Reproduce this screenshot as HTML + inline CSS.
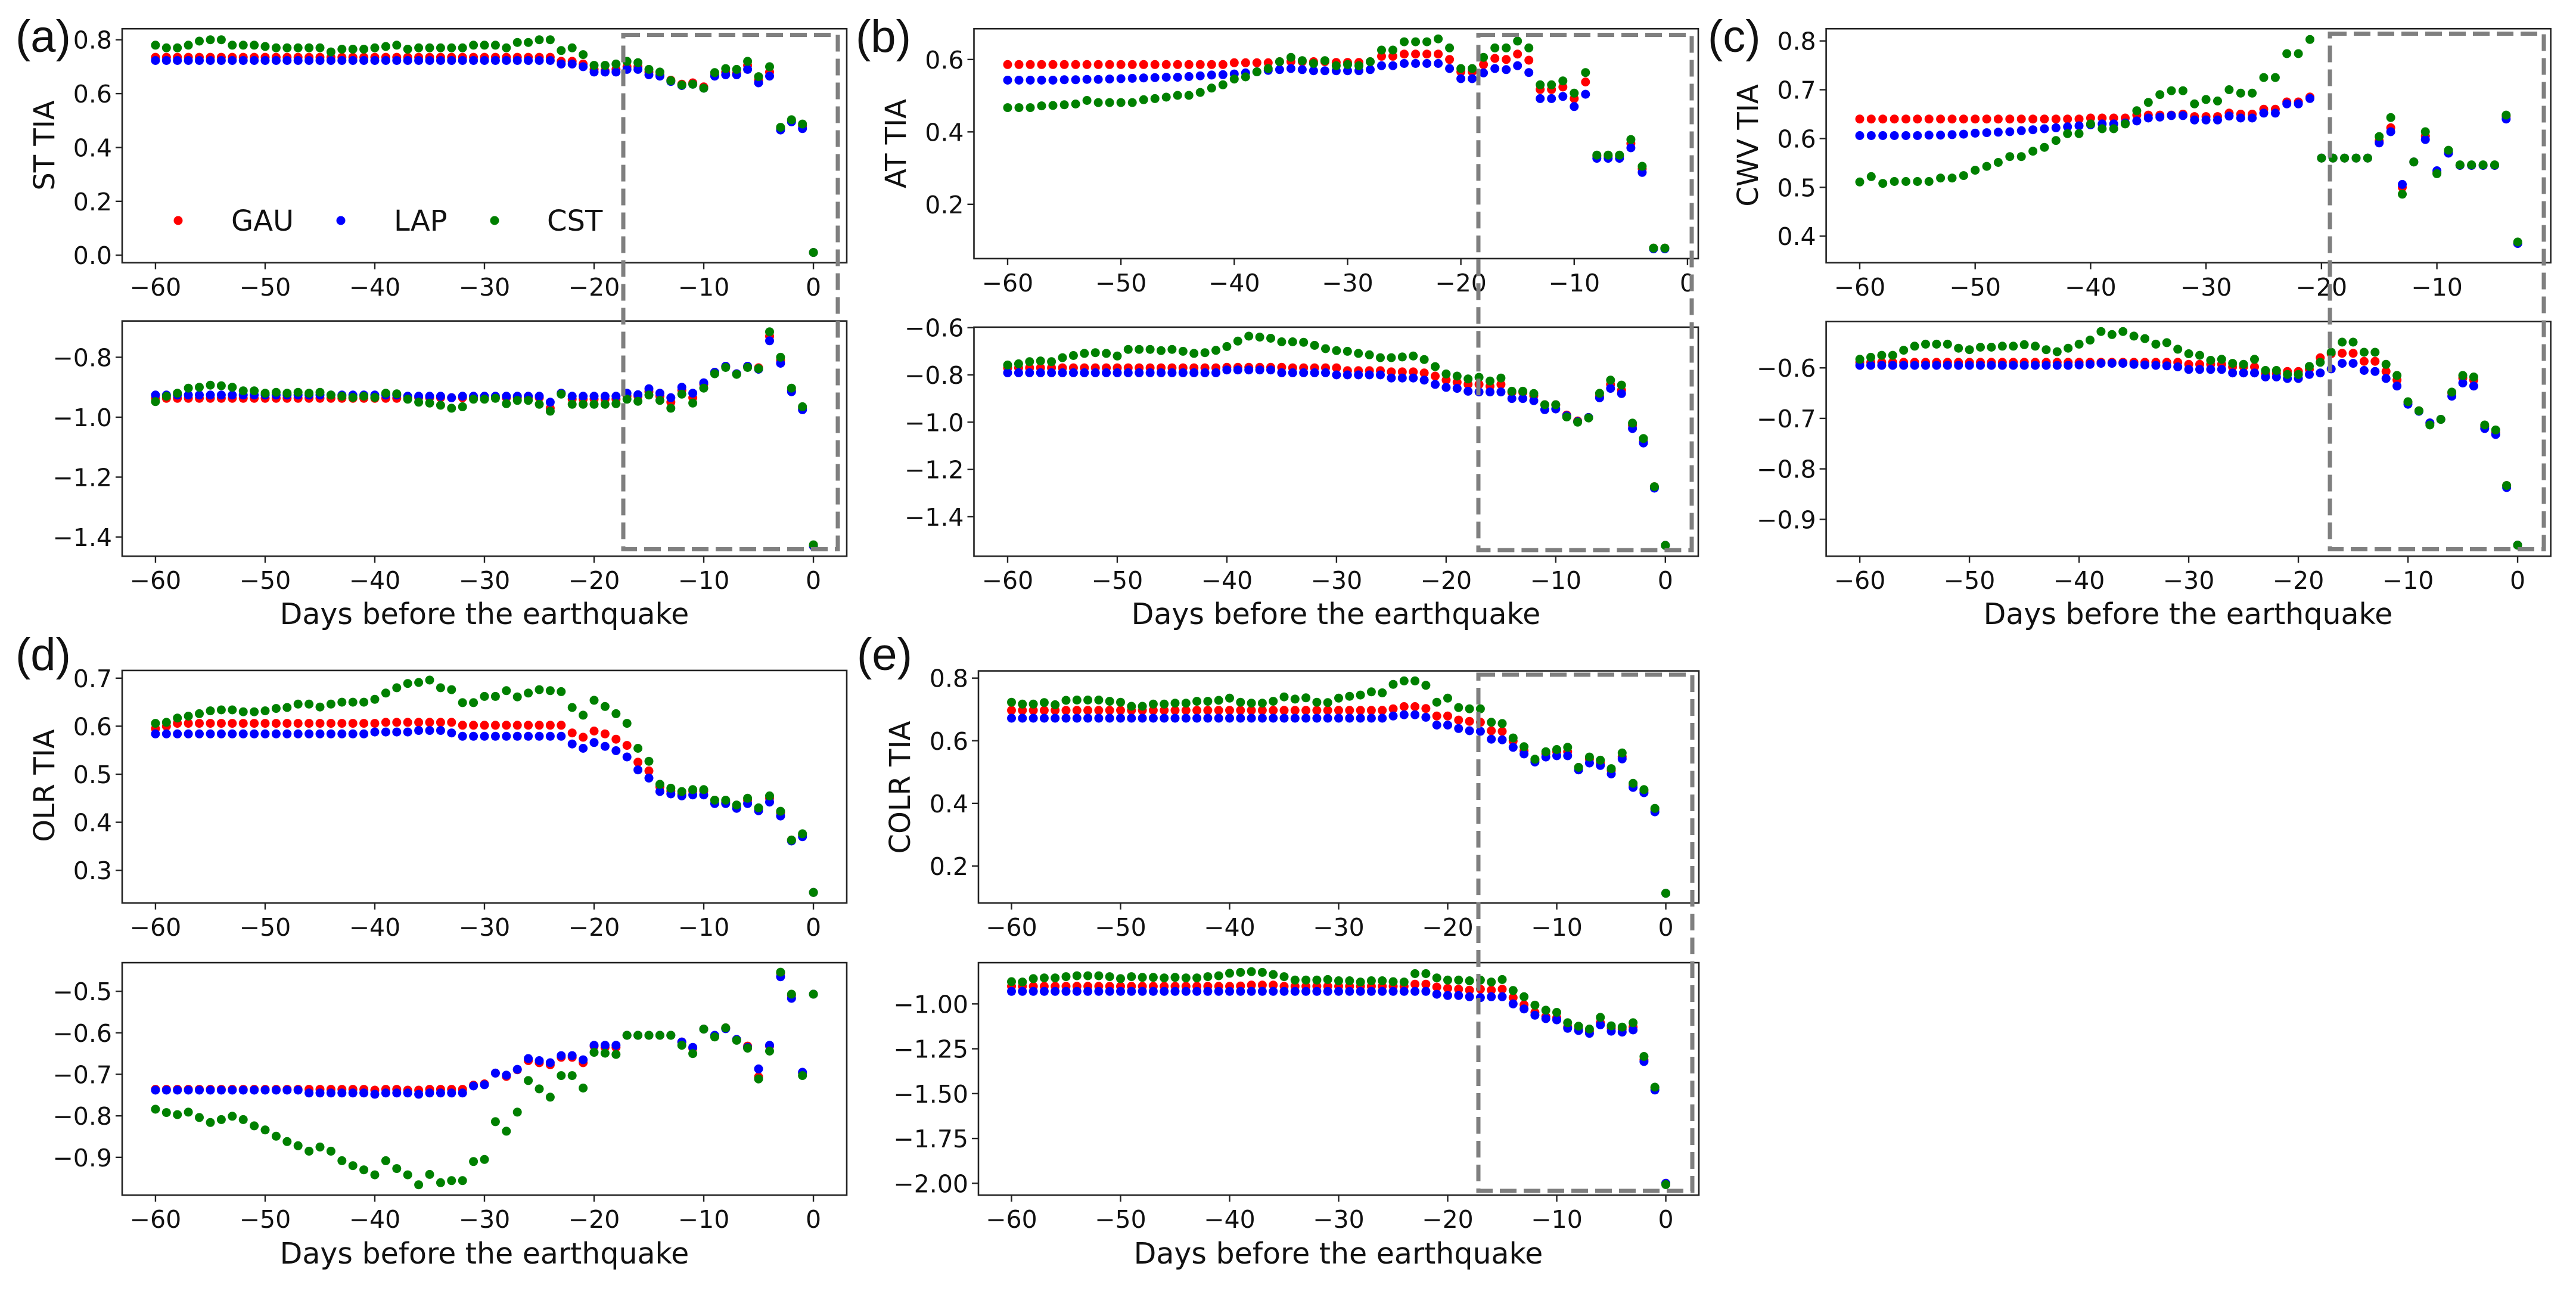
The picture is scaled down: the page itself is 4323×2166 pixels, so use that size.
<!DOCTYPE html>
<html><head><meta charset="utf-8"><title>TIA panels</title>
<style>html,body{margin:0;padding:0;background:#fff}svg{display:block}</style></head>
<body>
<svg id="fig" xmlns="http://www.w3.org/2000/svg" width="4323" height="2166" viewBox="0 0 4323 2166">
<rect x="0" y="0" width="4323" height="2166" fill="#fff"/>
</svg>
<script>
const days = [-60,-59,-58,-57,-56,-55,-54,-53,-52,-51,-50,-49,-48,-47,-46,-45,-44,-43,-42,-41,-40,-39,-38,-37,-36,-35,-34,-33,-32,-31,-30,-29,-28,-27,-26,-25,-24,-23,-22,-21,-20,-19,-18,-17,-16,-15,-14,-13,-12,-11,-10,-9,-8,-7,-6,-5,-4,-3,-2,-1,0];
const seriesNames = ["GAU","LAP","CST"];
const xTickVals = [-60,-50,-40,-30,-20,-10,0];

const aTopGAU = [.735,.735,.735,.735,.735,.735,.735,.735,.735,.735, .735,.735,.735,.735,.735,.735,.735,.735,.735,.735, .735,.735,.735,.735,.735,.735,.735,.735,.735,.735, .735,.735,.735,.735,.735,.735,.735,.72,.72,.71, .69,.685,.69,.70,.70,.68,.67,.65,.635,.64, .625,.67,.68,.675,.705,.65,.68,.47,.50,.48, .01];
const aTopLAP = [.723,.723,.723,.723,.723,.723,.723,.723,.723,.723, .723,.723,.723,.723,.723,.723,.723,.723,.723,.723, .723,.723,.723,.723,.723,.723,.723,.723,.723,.723, .723,.723,.723,.723,.723,.723,.723,.71,.71,.70, .68,.68,.68,.69,.69,.67,.665,.645,.63,.635, .62,.665,.67,.67,.69,.64,.665,.465,.495,.47, .01];
const aTopCST = [.78,.77,.77,.78,.795,.80,.80,.78,.78,.78, .775,.77,.77,.77,.77,.77,.755,.765,.765,.765, .77,.775,.78,.765,.77,.77,.77,.77,.77,.78, .78,.78,.77,.79,.79,.80,.80,.76,.77,.745, .705,.705,.71,.72,.715,.69,.68,.648,.632,.635, .62,.678,.693,.69,.72,.663,.70,.475,.503,.487, .01];
const aBotGAU = [-.937,-.937,-.937,-.937,-.937,-.937,-.937,-.937,-.937,-.937, -.937,-.937,-.937,-.937,-.937,-.937,-.937,-.937,-.937,-.937, -.937,-.937,-.937,-.935,-.935,-.935,-.935,-.935,-.935,-.935, -.935,-.935,-.935,-.935,-.935,-.935,-.97,-.92,-.94,-.94, -.94,-.94,-.94,-.93,-.93,-.915,-.93,-.95,-.91,-.935, -.89,-.85,-.83,-.855,-.83,-.835,-.73,-.81,-.91,-.97, -1.43];
const aBotLAP = [-.926,-.926,-.926,-.926,-.926,-.926,-.926,-.926,-.926,-.926, -.926,-.926,-.926,-.926,-.926,-.926,-.926,-.926,-.926,-.926, -.926,-.926,-.926,-.93,-.93,-.93,-.93,-.935,-.93,-.93, -.93,-.93,-.93,-.93,-.93,-.93,-.95,-.92,-.93,-.93, -.93,-.93,-.93,-.92,-.925,-.905,-.92,-.935,-.90,-.92, -.885,-.85,-.83,-.855,-.83,-.84,-.745,-.82,-.915,-.975, -1.43];
const aBotCST = [-.948,-.93,-.92,-.903,-.90,-.893,-.895,-.90,-.912,-.912, -.92,-.917,-.92,-.917,-.92,-.917,-.926,-.93,-.934,-.93, -.934,-.92,-.922,-.94,-.95,-.953,-.96,-.97,-.965,-.94, -.94,-.937,-.955,-.944,-.944,-.957,-.98,-.923,-.957,-.957, -.957,-.957,-.955,-.94,-.947,-.926,-.944,-.97,-.923,-.953, -.903,-.855,-.834,-.857,-.834,-.838,-.715,-.80,-.903,-.965, -1.426];

const bTopGAU = [.586,.586,.586,.586,.586,.586,.586,.586,.586,.586, .586,.586,.586,.586,.586,.586,.586,.586,.586,.586, .591,.591,.591,.591,.594,.594,.594,.594,.594,.592, .592,.592,.594,.609,.609,.615,.615,.615,.615,.60, .566,.566,.586,.603,.60,.615,.598,.517,.517,.524, .492,.538,.333,.333,.333,.368,.298,.079,.079,null, null];
const bTopLAP = [.543,.543,.543,.543,.543,.544,.544,.545,.545,.546, .547,.548,.549,.55,.551,.551,.553,.555,.557,.558, .56,.563,.566,.57,.572,.575,.572,.569,.569,.569, .569,.569,.572,.583,.583,.589,.589,.589,.589,.575, .547,.547,.563,.575,.572,.583,.564,.492,.492,.498, .47,.504,.327,.327,.327,.356,.288,.077,.077,null, null];
const bTopCST = [.467,.467,.467,.472,.473,.475,.477,.487,.481,.481, .481,.481,.489,.492,.496,.501,.501,.509,.521,.53, .546,.552,.566,.575,.594,.606,.597,.589,.597,.583, .586,.583,.594,.626,.626,.649,.649,.649,.657,.632, .575,.575,.606,.632,.632,.651,.632,.53,.53,.541, .507,.564,.336,.336,.336,.379,.305,.079,.079,null, null];
const bBotGAU = [-.77,-.77,-.77,-.77,-.77,-.77,-.77,-.77,-.77,-.77, -.77,-.77,-.77,-.77,-.77,-.77,-.77,-.77,-.77,-.77, -.768,-.768,-.768,-.768,-.768,-.768,-.77,-.77,-.77,-.77, -.77,-.782,-.782,-.782,-.782,-.787,-.787,-.787,-.792,-.805, -.822,-.831,-.84,-.84,-.848,-.84,-.874,-.874,-.888,-.926, -.926,-.97,-.995,-.98,-.89,-.84,-.865,-1.013,-1.082,-1.273, -1.521];
const bBotLAP = [-.791,-.791,-.791,-.791,-.791,-.791,-.791,-.791,-.791,-.791, -.791,-.791,-.791,-.791,-.791,-.791,-.791,-.791,-.791,-.791, -.779,-.779,-.779,-.779,-.779,-.791,-.791,-.791,-.791,-.791, -.80,-.80,-.80,-.80,-.80,-.813,-.813,-.813,-.822,-.84, -.853,-.857,-.869,-.872,-.872,-.872,-.90,-.90,-.909,-.947, -.944,-.973,-.998,-.98,-.897,-.857,-.879,-1.027,-1.088,-1.279, -1.521];
const bBotCST = [-.758,-.753,-.744,-.741,-.744,-.727,-.718,-.709,-.706,-.709, -.72,-.692,-.692,-.692,-.697,-.692,-.70,-.709,-.706,-.696, -.68,-.657,-.636,-.64,-.645,-.66,-.66,-.662,-.675,-.689, -.697,-.70,-.709,-.715,-.727,-.727,-.724,-.72,-.735,-.765, -.796,-.805,-.817,-.81,-.826,-.813,-.869,-.869,-.879,-.926, -.926,-.978,-1.0,-.982,-.878,-.822,-.843,-1.004,-1.069,-1.273, -1.521];

const cTopGAU = [.64,.64,.64,.64,.64,.64,.64,.64,.64,.64, .64,.64,.64,.64,.64,.64,.64,.64,.64,.64, .642,.642,.642,.642,.648,.648,.648,.648,.65,.645, .645,.645,.652,.65,.65,.66,.66,.675,.675,.685, .56,.56,.56,.56,.56,.595,.622,.50,.552,.605, .53,.572,.545,.545,.545,.545,.645,.385,null,null, null];
const cTopLAP = [.606,.606,.606,.606,.606,.606,.607,.607,.608,.609, .611,.612,.613,.614,.616,.618,.62,.622,.624,.626, .628,.63,.63,.632,.636,.642,.644,.647,.647,.638, .638,.638,.646,.642,.642,.652,.652,.671,.671,.682, .56,.56,.56,.56,.56,.591,.614,.506,.552,.598, .534,.57,.545,.545,.545,.545,.64,.385,null,null, null];
const cTopCST = [.511,.522,.508,.512,.512,.512,.512,.519,.519,.524, .535,.543,.551,.563,.563,.574,.582,.596,.61,.61, .63,.62,.62,.63,.657,.674,.69,.698,.698,.671, .68,.677,.70,.693,.693,.725,.725,.774,.774,.803, .56,.56,.56,.56,.56,.604,.643,.486,.552,.614, .528,.576,.546,.546,.546,.546,.648,.388,null,null, null];
const cBotGAU = [-.589,-.589,-.589,-.589,-.589,-.589,-.589,-.589,-.589,-.589, -.589,-.589,-.589,-.589,-.589,-.589,-.589,-.589,-.589,-.589, -.589,-.589,-.589,-.589,-.589,-.589,-.589,-.589,-.589,-.589, -.593,-.593,-.593,-.593,-.598,-.598,-.598,-.611,-.611,-.607, -.607,-.603,-.58,-.572,-.571,-.571,-.587,-.587,-.607,-.624, -.668,-.685,-.709,-.702,-.65,-.62,-.624,-.716,-.728,-.833, -.951];
const cBotLAP = [-.595,-.595,-.595,-.595,-.595,-.595,-.595,-.595,-.595,-.595, -.595,-.595,-.595,-.595,-.595,-.595,-.595,-.595,-.595,-.595, -.594,-.593,-.591,-.591,-.591,-.593,-.594,-.595,-.596,-.598, -.603,-.603,-.603,-.603,-.61,-.61,-.61,-.618,-.618,-.621, -.621,-.613,-.61,-.602,-.591,-.591,-.605,-.607,-.621,-.636, -.672,-.686,-.709,-.702,-.656,-.63,-.636,-.72,-.732,-.837, -.951];
const cBotCST = [-.583,-.579,-.575,-.575,-.565,-.557,-.553,-.553,-.553,-.561, -.564,-.559,-.559,-.557,-.557,-.554,-.557,-.564,-.568,-.561, -.553,-.545,-.528,-.534,-.528,-.537,-.542,-.553,-.55,-.563, -.572,-.575,-.585,-.583,-.591,-.593,-.583,-.605,-.605,-.613, -.613,-.597,-.589,-.569,-.549,-.549,-.569,-.569,-.593,-.615, -.667,-.685,-.713,-.702,-.648,-.615,-.618,-.713,-.723,-.833, -.951];

const dTopGAU = [.595,.60,.606,.606,.606,.606,.606,.606,.606,.606, .606,.606,.606,.606,.606,.606,.606,.606,.606,.606, .606,.608,.608,.608,.608,.608,.608,.608,.602,.602, .602,.602,.602,.602,.602,.602,.602,.602,.586,.577, .59,.584,.573,.56,.525,.507,.474,.465,.459,.465, .465,.446,.442,.433,.446,.429,.45,.42,.363,.374, .254];
const dTopLAP = [.584,.584,.584,.584,.584,.584,.584,.584,.584,.584, .584,.584,.584,.584,.584,.584,.584,.584,.584,.584, .588,.588,.588,.588,.591,.591,.591,.586,.579,.579, .579,.579,.579,.579,.579,.579,.579,.579,.563,.554, .566,.558,.549,.536,.509,.492,.464,.459,.455,.457, .457,.439,.439,.429,.439,.424,.442,.413,.361,.37, .254];
const dTopCST = [.606,.608,.617,.621,.626,.632,.634,.634,.63,.63, .632,.637,.639,.646,.646,.64,.646,.65,.65,.65, .656,.669,.68,.689,.691,.696,.68,.676,.649,.649, .662,.662,.674,.661,.669,.676,.674,.672,.639,.623, .654,.641,.626,.606,.554,.527,.479,.471,.464,.468, .468,.446,.446,.436,.45,.43,.455,.423,.363,.376, .254];
const dBotGAU = [-.736,-.736,-.736,-.736,-.736,-.736,-.736,-.736,-.736,-.736, -.736,-.736,-.736,-.736,-.736,-.736,-.736,-.736,-.736,-.736, -.738,-.736,-.736,-.738,-.738,-.736,-.736,-.736,-.736,-.726, -.723,-.697,-.705,-.689,-.667,-.672,-.677,-.659,-.659,-.672, -.632,-.635,-.635,-.606,-.606,-.606,-.606,-.606,-.622,-.637, -.591,-.608,-.588,-.616,-.632,-.706,-.632,-.456,-.51,-.697, -.507];
const dBotLAP = [-.738,-.738,-.738,-.738,-.738,-.738,-.738,-.738,-.738,-.738, -.738,-.738,-.738,-.738,-.745,-.745,-.745,-.745,-.745,-.745, -.748,-.745,-.745,-.745,-.748,-.745,-.745,-.745,-.745,-.728, -.725,-.697,-.702,-.688,-.662,-.667,-.672,-.655,-.655,-.665, -.63,-.63,-.63,-.606,-.606,-.606,-.606,-.606,-.622,-.635, -.591,-.606,-.59,-.616,-.635,-.687,-.63,-.465,-.517,-.695, -.507];
const dBotCST = [-.784,-.792,-.797,-.791,-.804,-.816,-.809,-.801,-.809,-.824, -.834,-.849,-.862,-.872,-.885,-.875,-.885,-.908,-.92,-.93, -.942,-.908,-.927,-.942,-.966,-.941,-.961,-.956,-.956,-.91, -.905,-.814,-.837,-.791,-.715,-.735,-.755,-.703,-.703,-.733, -.647,-.649,-.652,-.606,-.606,-.606,-.606,-.606,-.63,-.65, -.591,-.61,-.588,-.618,-.637,-.711,-.644,-.454,-.507,-.703, -.507];

const eTopGAU = [.697,.697,.697,.697,.697,.697,.697,.697,.697,.697, .697,.697,.697,.697,.697,.697,.697,.697,.697,.697, .697,.697,.697,.697,.697,.697,.697,.697,.697,.697, .697,.697,.697,.697,.697,.702,.709,.709,.703,.679, .679,.666,.662,.659,.632,.63,.599,.568,.538,.558, .565,.565,.515,.541,.529,.505,.549,.458,.44,.38, .113];
const eTopLAP = [.672,.672,.672,.672,.672,.672,.672,.672,.672,.672, .672,.672,.672,.672,.672,.672,.672,.672,.672,.672, .672,.672,.672,.672,.672,.672,.672,.672,.672,.672, .672,.672,.672,.672,.672,.679,.683,.683,.675,.65, .65,.639,.632,.63,.605,.603,.579,.558,.532,.548, .552,.552,.507,.529,.521,.494,.542,.451,.434,.373, .113];
const eTopCST = [.723,.717,.717,.722,.715,.729,.73,.73,.73,.726, .723,.71,.71,.717,.717,.72,.72,.726,.726,.729, .736,.723,.72,.72,.726,.74,.733,.737,.723,.722, .736,.742,.746,.756,.753,.78,.791,.791,.777,.723, .736,.706,.702,.702,.659,.655,.609,.581,.541,.565, .572,.579,.515,.548,.538,.511,.561,.464,.444,.384, .113];
const eBotGAU = [-.902,-.902,-.902,-.902,-.902,-.902,-.902,-.902,-.902,-.902, -.902,-.902,-.902,-.902,-.902,-.902,-.902,-.902,-.902,-.902, -.902,-.90,-.895,-.895,-.895,-.902,-.902,-.902,-.902,-.902, -.902,-.902,-.902,-.902,-.902,-.902,-.902,-.89,-.89,-.906, -.913,-.918,-.923,-.918,-.923,-.918,-.965,-1.005,-1.047,-1.07, -1.077,-1.129,-1.14,-1.152,-1.105,-1.136,-1.14,-1.129,-1.311,-1.468, -2.0];
const eBotLAP = [-.93,-.93,-.93,-.93,-.93,-.93,-.93,-.93,-.93,-.93, -.93,-.93,-.93,-.93,-.93,-.93,-.93,-.93,-.93,-.93, -.93,-.93,-.93,-.93,-.93,-.93,-.93,-.93,-.93,-.93, -.93,-.93,-.93,-.93,-.93,-.93,-.93,-.93,-.93,-.946, -.953,-.953,-.96,-.965,-.96,-.96,-1.0,-1.028,-1.063,-1.082, -1.089,-1.136,-1.148,-1.164,-1.117,-1.152,-1.157,-1.145,-1.321,-1.48, -2.0];
const eBotCST = [-.876,-.878,-.859,-.855,-.855,-.848,-.843,-.843,-.843,-.848, -.859,-.848,-.852,-.852,-.855,-.852,-.855,-.855,-.848,-.843, -.829,-.824,-.82,-.824,-.836,-.848,-.867,-.867,-.867,-.864, -.871,-.871,-.878,-.871,-.871,-.876,-.878,-.831,-.831,-.855, -.867,-.867,-.871,-.867,-.878,-.864,-.925,-.96,-1.007,-1.035, -1.047,-1.105,-1.124,-1.14,-1.075,-1.122,-1.129,-1.105,-1.293,-1.464, -2.007];

const aTopYTicks = [0,0.2,0.4,0.6,0.8];
const aBotYTicks = [-1.4,-1.2,-1.0,-0.8];
const bTopYTicks = [0.2,0.4,0.6];
const bBotYTicks = [-1.4,-1.2,-1.0,-0.8,-0.6];
const cTopYTicks = [0.4,0.5,0.6,0.7,0.8];
const cBotYTicks = [-0.9,-0.8,-0.7,-0.6];
const dTopYTicks = [0.3,0.4,0.5,0.6,0.7];
const dBotYTicks = [-0.9,-0.8,-0.7,-0.6,-0.5];
const eTopYTicks = [0.2,0.4,0.6,0.8];
const eBotYTicks = [-2.0,-1.75,-1.5,-1.25,-1.0];

const NS = "http://www.w3.org/2000/svg";
const svg = document.getElementById("fig");
const COLORS = ["#ff0000","#0000ff","#008000"];
const FONT = "'DejaVu Sans', 'Liberation Sans', sans-serif";

function mk(tag, attrs, parent) {
  const el = document.createElementNS(NS, tag);
  for (const k in attrs) el.setAttribute(k, attrs[k]);
  (parent || svg).appendChild(el);
  return el;
}
function fmt(v, d) { const s = Math.abs(v).toFixed(d); return (v < -1e-9 ? "\u2212" : "") + s; }

function drawPanel(name, box, xlim, ylim, yticks, ydec, xticks, data) {
  const g = mk("g", {});
  
  
  const sx = v => box.x0 + (v - xlim[0]) / (xlim[1] - xlim[0]) * (box.x1 - box.x0);
  const sy = v => box.y1 - (v - ylim[0]) / (ylim[1] - ylim[0]) * (box.y1 - box.y0);
  // points
  data.forEach((arr, si) => {
    const sg = mk("g", {fill: COLORS[si]}, g);
    
    
    arr.forEach((v, i) => {
      if (v === null) return;
      const c = mk("circle", {cx: sx(days[i]).toFixed(1), cy: sy(v).toFixed(1), r: 7.5}, sg);
      
      
    });
  });
  // frame
  const fr = mk("rect", {x: box.x0, y: box.y0, width: box.x1 - box.x0, height: box.y1 - box.y0, fill: "none", stroke: "#222", "stroke-width": 2.6}, g);
  
  
  // x ticks
  xticks.forEach(t => {
    const x = sx(t);
    if (x < box.x0 - 1 || x > box.x1 + 1) return;
    mk("line", {x1: x, y1: box.y1, x2: x, y2: box.y1 + 11, stroke: "#222", "stroke-width": 2.4}, g);
    const tx = mk("text", {x: x, y: box.y1 + 55, "text-anchor": "middle", "font-size": 41, "font-family": FONT, fill: "#111"}, g);
    tx.textContent = fmt(t, 0);
    
    
  });
  // y ticks
  yticks.forEach(t => {
    const y = sy(t);
    mk("line", {x1: box.x0 - 11, y1: y, x2: box.x0, y2: y, stroke: "#222", "stroke-width": 2.4}, g);
    const ty = mk("text", {x: box.x0 - 17, y: y + 15, "text-anchor": "end", "font-size": 41, "font-family": FONT, fill: "#111"}, g);
    ty.textContent = fmt(t, ydec);
    
    
  });
}

// Panel (a)
drawPanel("panel-a-top", {x0:205,x1:1421,y0:48.2,y1:440.8}, [-63.04,3.04], [-0.028,0.841], aTopYTicks, 1, xTickVals, [aTopGAU,aTopLAP,aTopCST]);
drawPanel("panel-a-bottom", {x0:205,x1:1421,y0:538.6,y1:933.2}, [-63.04,3.04], [-1.464,-0.679], aBotYTicks, 1, xTickVals, [aBotGAU,aBotLAP,aBotCST]);
// Panel (b)
drawPanel("panel-b-top", {x0:1634.5,x1:2850,y0:48.2,y1:433.9}, [-62.97,0.95], [0.050,0.685], bTopYTicks, 1, xTickVals, [bTopGAU,bTopLAP,bTopCST]);
drawPanel("panel-b-bottom", {x0:1634.5,x1:2850,y0:548.9,y1:933.2}, [-63.07,3.0], [-1.567,-0.598], bBotYTicks, 1, xTickVals, [bBotGAU,bBotLAP,bBotCST]);
// Panel (c)
drawPanel("panel-c-top", {x0:3064.6,x1:4280.6,y0:48.2,y1:440.8}, [-62.91,-0.14], [0.3455,0.825], cTopYTicks, 1, xTickVals, [cTopGAU,cTopLAP,cTopCST]);
drawPanel("panel-c-bottom", {x0:3064.6,x1:4280.6,y0:539.3,y1:933.2}, [-63.07,3.02], [-0.973,-0.508], cBotYTicks, 1, xTickVals, [cBotGAU,cBotLAP,cBotCST]);
// Panel (d)
drawPanel("panel-d-top", {x0:205,x1:1421,y0:1124.9,y1:1515}, [-63.04,3.04], [0.232,0.716], dTopYTicks, 1, xTickVals, [dTopGAU,dTopLAP,dTopCST]);
drawPanel("panel-d-bottom", {x0:205,x1:1421,y0:1615.1,y1:2005.2}, [-63.04,3.04], [-0.991,-0.431], dBotYTicks, 1, xTickVals, [dBotGAU,dBotLAP,dBotCST]);
// Panel (e)
drawPanel("panel-e-top", {x0:1642,x1:2851,y0:1125.6,y1:1515}, [-63.03,3.03], [0.082,0.823], eTopYTicks, 1, xTickVals, [eTopGAU,eTopLAP,eTopCST]);
drawPanel("panel-e-bottom", {x0:1642,x1:2851,y0:1615.1,y1:2005.2}, [-63.03,3.03], [-2.066,-0.770], eBotYTicks, 2, xTickVals, [eBotGAU,eBotLAP,eBotCST]);

// Dashed highlight boxes
[[1046,58.5,1406,921.5,"highlight-box-a"],[2481,58.5,2839,922.9,"highlight-box-b"],[3910,56.5,4269,921.5,"highlight-box-c"],[2481,1132,2840,1998,"highlight-box-e"]].forEach(r => {
  const el = mk("rect", {x:r[0], y:r[1], width:r[2]-r[0], height:r[3]-r[1], fill:"none", stroke:"#7f7f7f", "stroke-width":7, "stroke-dasharray":"28 12"});
  
  
});

// Text labels
function label(txt, x, y, size, nm, opts) {
  const a = Object.assign({x:x, y:y, "font-size":size, "font-family":FONT, fill:"#111"}, opts || {});
  const t = mk("text", a);
  t.textContent = txt;
  
  
  return t;
}
label("Days before the earthquake", 813, 1047, 49, "x-axis-title-a", {"text-anchor":"middle"});
label("Days before the earthquake", 2242, 1047, 49, "x-axis-title-b", {"text-anchor":"middle"});
label("Days before the earthquake", 3672, 1047, 49, "x-axis-title-c", {"text-anchor":"middle"});
label("Days before the earthquake", 813, 2120, 49, "x-axis-title-d", {"text-anchor":"middle"});
label("Days before the earthquake", 2246, 2120, 49, "x-axis-title-e", {"text-anchor":"middle"});

function ylabel(txt, x, y, nm) {
  const t = label(txt, 0, 0, 48, nm, {"text-anchor":"middle", transform:"translate(" + (x + 17) + "," + y + ") rotate(-90)"});
  return t;
}
ylabel("ST TIA", 74, 244, "y-axis-title-st");
ylabel("AT TIA", 1503, 241, "y-axis-title-at");
ylabel("CWV TIA", 2933, 244, "y-axis-title-cwv");
ylabel("OLR TIA", 74, 1318, "y-axis-title-olr");
ylabel("COLR TIA", 1510, 1321, "y-axis-title-colr");

const PL = "'Liberation Sans', sans-serif";
label("(a)", 26, 87, 76, "panel-label-a", {"font-family":PL});
label("(b)", 1436, 87, 76, "panel-label-b", {"font-family":PL});
label("(c)", 2866, 87, 76, "panel-label-c", {"font-family":PL});
label("(d)", 26, 1124, 76, "panel-label-d", {"font-family":PL});
label("(e)", 1438, 1124, 76, "panel-label-e", {"font-family":PL});

// Legend
const lg = mk("g", {});


[[299,388],[572,661],[830,918]].forEach((p, i) => {
  const c = mk("circle", {cx:p[0], cy:370, r:7.5, fill:COLORS[i]}, lg);
  
  
  const t = mk("text", {x:p[1], y:387, "font-size":48, "font-family":FONT, fill:"#111"}, lg);
  t.textContent = seriesNames[i];
  
  
});
</script>
</body></html>
